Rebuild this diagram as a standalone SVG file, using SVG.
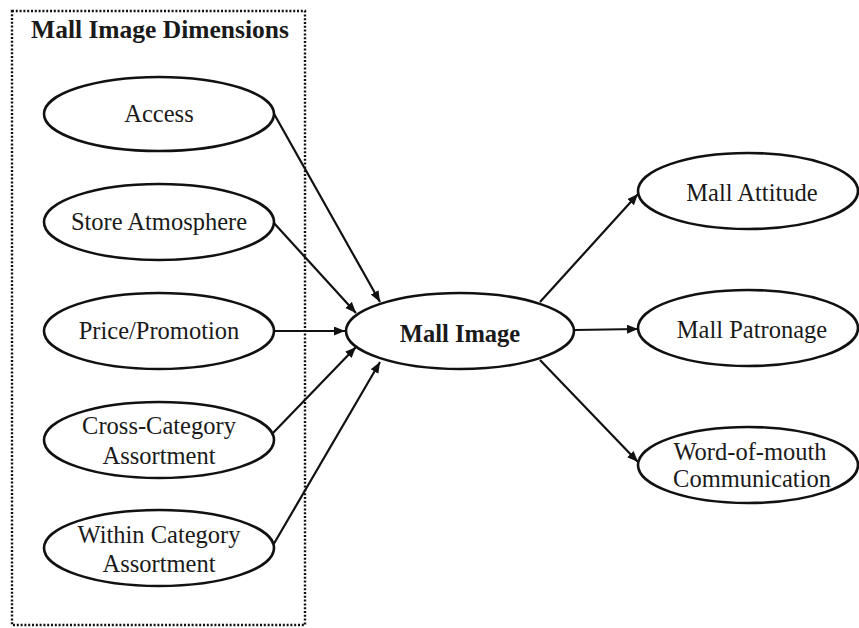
<svg xmlns="http://www.w3.org/2000/svg" width="859" height="628" viewBox="0 0 859 628">
<style>
.n ellipse{fill:#fff;stroke:#111;stroke-width:2.6}
text{font-family:"Liberation Serif","Times New Roman",serif;font-size:24.5px;fill:#1a1a1a;text-anchor:middle}
.b{font-weight:bold}
.t{font-size:25.5px}
.c line{stroke:#111;stroke-width:2.2;marker-end:url(#ah)}
</style>
<defs>
<marker id="ah" markerUnits="userSpaceOnUse" markerWidth="12" markerHeight="10" refX="11" refY="4.5" orient="auto">
<path d="M0,0 L11,4.5 L0,9 Z" fill="#111"/>
</marker>
</defs>
<rect width="859" height="628" fill="#fff"/>
<g id="dimensions">
<rect x="12" y="11" width="293" height="614" fill="none" stroke="#111" stroke-width="2.4" stroke-dasharray="2 1.8"/>
<text class="b t" x="160" y="38">Mall Image Dimensions</text>
</g>
<g class="c" id="connectors">
<line x1="273" y1="112" x2="380" y2="302"/>
<line x1="273" y1="222" x2="356" y2="313"/>
<line x1="275" y1="331" x2="345" y2="331"/>
<line x1="273" y1="433" x2="356" y2="347"/>
<line x1="272" y1="547" x2="380" y2="362"/>
<line x1="540" y1="302" x2="638" y2="194"/>
<line x1="575" y1="330" x2="638" y2="329"/>
<line x1="540" y1="360" x2="638" y2="462"/>
</g>
<g class="n" id="access"><ellipse cx="159" cy="114" rx="115" ry="37"/><text x="159" y="122">Access</text></g>
<g class="n" id="store-atmosphere"><ellipse cx="159" cy="222" rx="115" ry="38"/><text x="159" y="230">Store Atmosphere</text></g>
<g class="n" id="price-promotion"><ellipse cx="159" cy="331" rx="115" ry="38"/><text x="159" y="339">Price/Promotion</text></g>
<g class="n" id="cross-category"><ellipse cx="159" cy="440" rx="115" ry="38"/><text x="159" y="434">Cross-Category</text><text x="159" y="464">Assortment</text></g>
<g class="n" id="within-category"><ellipse cx="159" cy="548" rx="115" ry="38"/><text x="159" y="543">Within Category</text><text x="159" y="572">Assortment</text></g>
<g class="n" id="mall-image"><ellipse cx="460" cy="331" rx="114" ry="38"/><text class="b" x="460" y="342">Mall Image</text></g>
<g class="n" id="mall-attitude"><ellipse cx="748" cy="191" rx="110" ry="38"/><text x="752" y="201">Mall Attitude</text></g>
<g class="n" id="mall-patronage"><ellipse cx="748" cy="328" rx="110" ry="38"/><text x="752" y="338">Mall Patronage</text></g>
<g class="n" id="word-of-mouth"><ellipse cx="748" cy="465" rx="110" ry="38"/><text x="750" y="460">Word-of-mouth</text><text x="752" y="487">Communication</text></g>
</svg>
